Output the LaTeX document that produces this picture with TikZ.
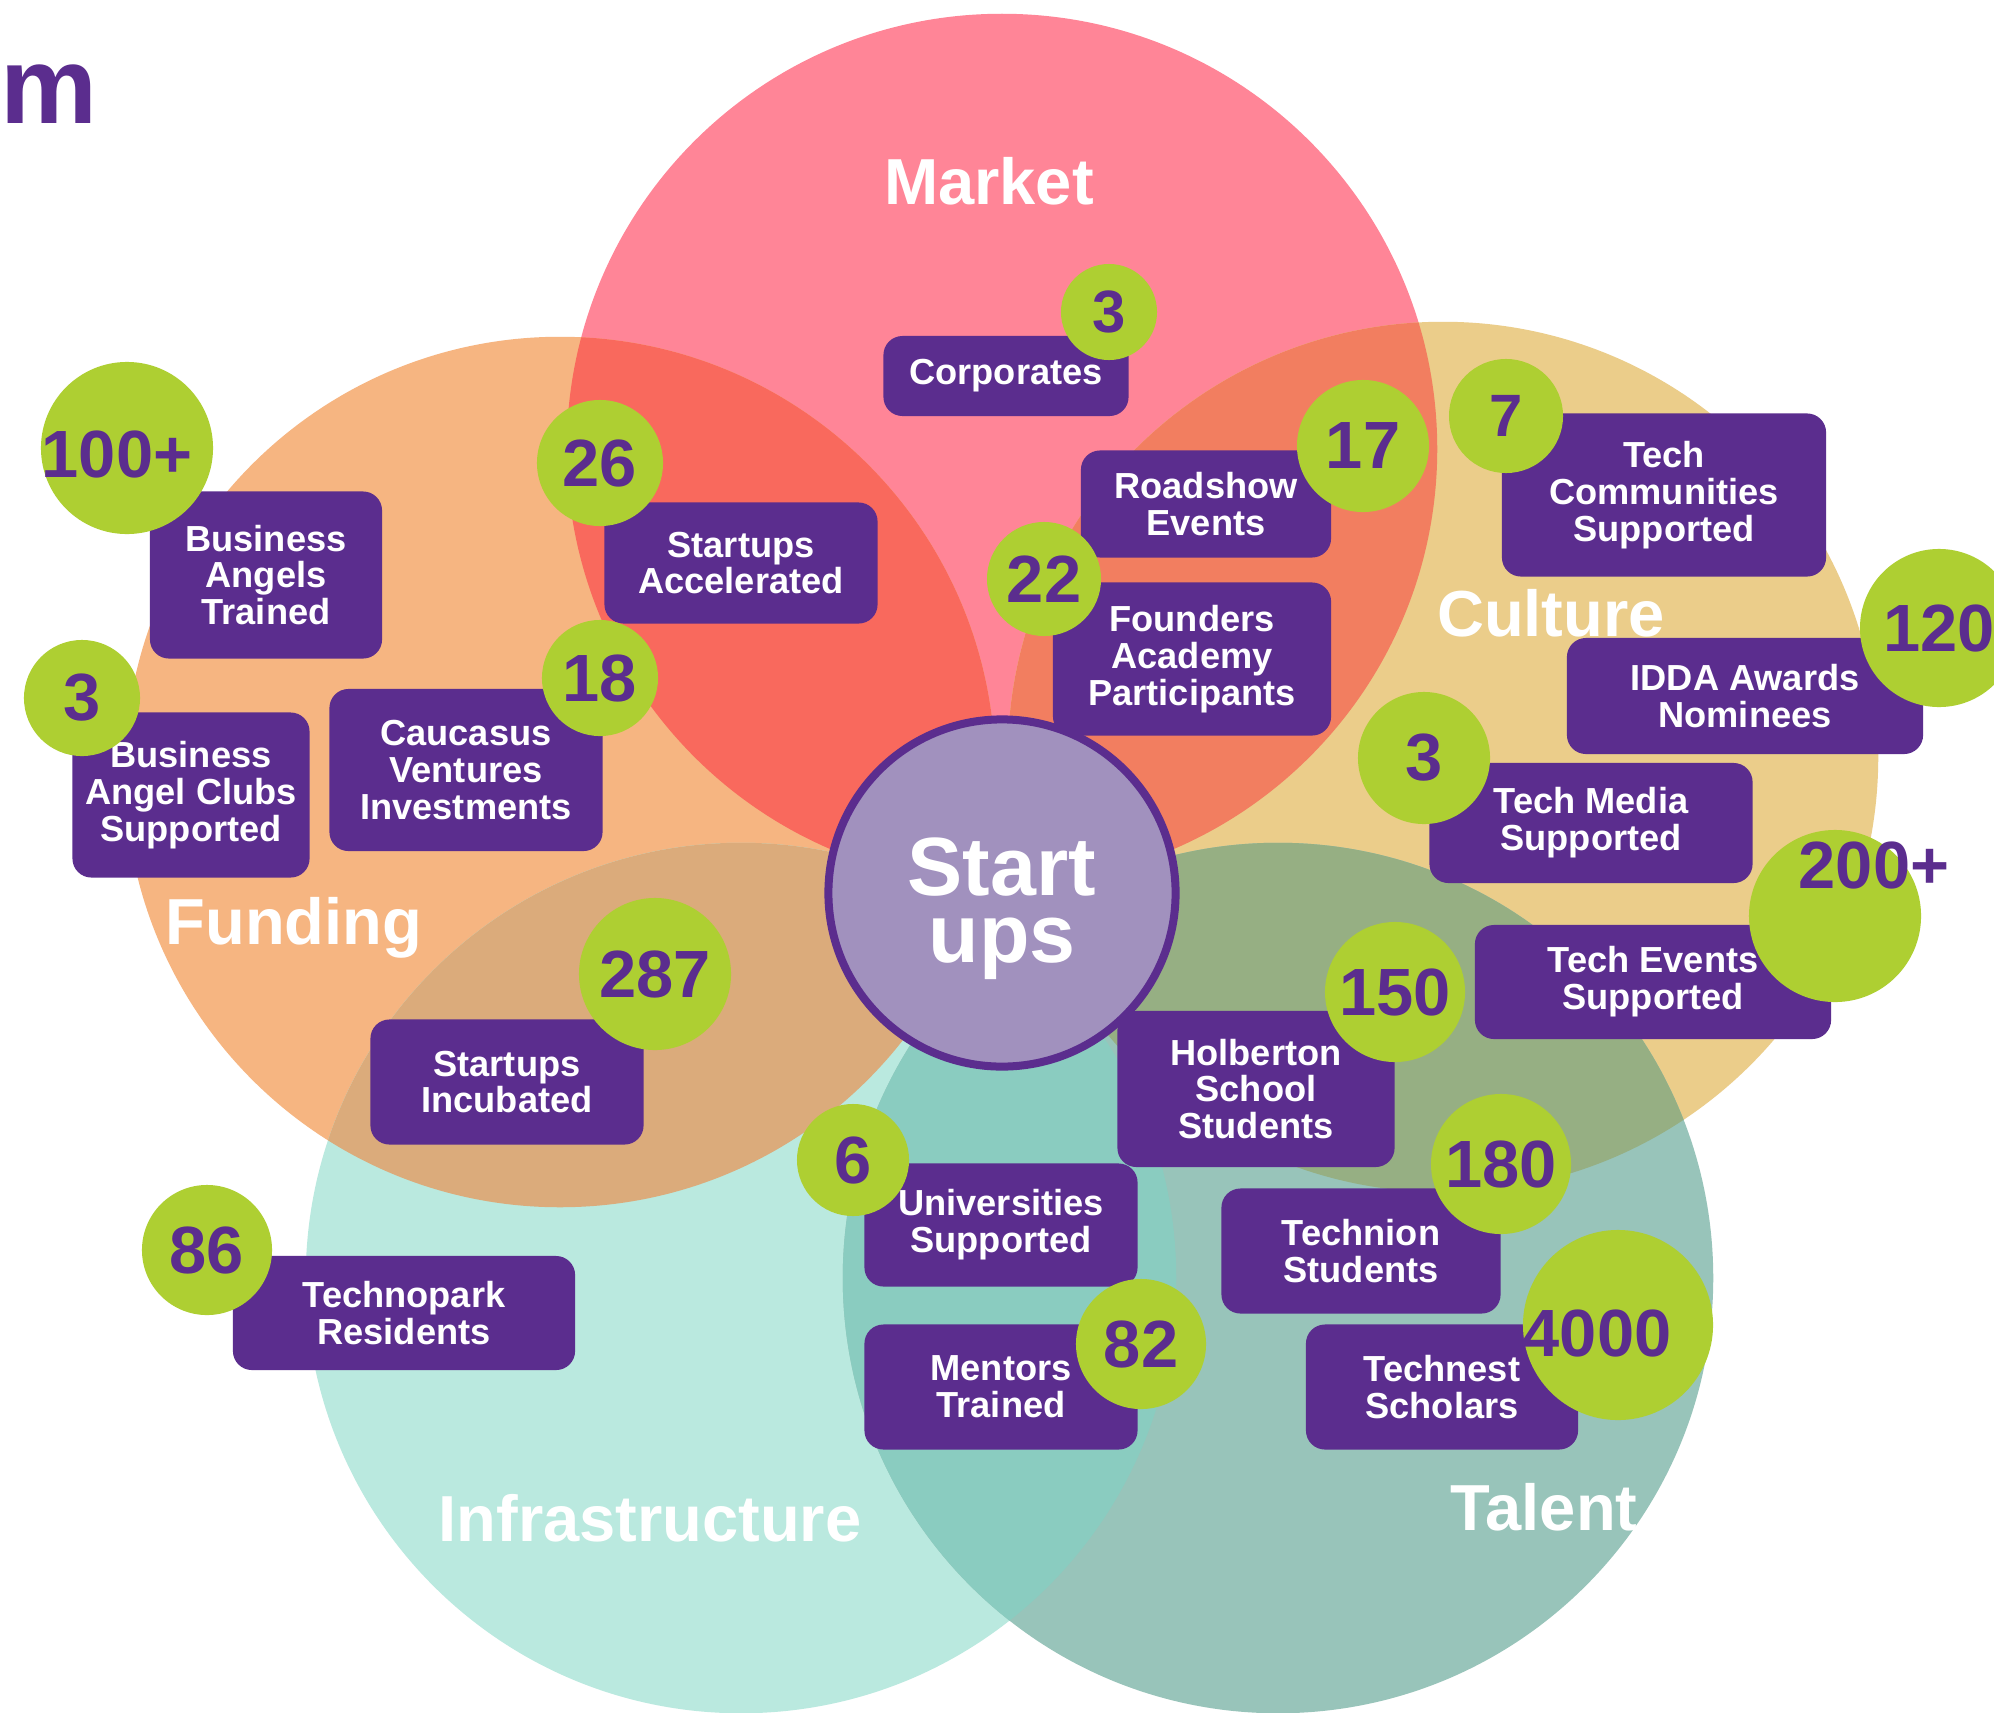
\documentclass[tikz,border=0pt]{standalone}
\usepackage{fontspec}
\setmainfont{Liberation Sans}
\definecolor{vpurple}{HTML}{5B2D8E}
\definecolor{vgreen}{HTML}{AECF32}
\definecolor{cM}{HTML}{FF8597}
\definecolor{cF}{HTML}{F6B581}
\definecolor{cC}{HTML}{EBCD8A}
\definecolor{cI}{HTML}{BAE9DF}
\definecolor{cT}{HTML}{98C4BA}
\definecolor{cMF}{HTML}{F9695D}
\definecolor{cMC}{HTML}{F27E60}
\definecolor{cFI}{HTML}{DBAB7B}
\definecolor{cCT}{HTML}{96AF83}
\definecolor{cIT}{HTML}{8ACCC0}
\definecolor{cS}{HTML}{A191BE}
\begin{document}
\begin{tikzpicture}[x=0.01cm,y=-0.01cm,
  box/.style={fill=vpurple, rounded corners=0.19cm, text=white,
    font=\fontsize{10.3}{10.5}\selectfont\bfseries, align=center, inner sep=0pt},
  num/.style={circle, fill=vgreen, text=vpurple,
    font=\fontsize{19}{19}\selectfont\bfseries, inner sep=0pt},
  numtext/.style={text=vpurple, font=\fontsize{19}{19}\selectfont\bfseries, inner sep=0pt},
  small/.style={font=\fontsize{17}{17}\selectfont\bfseries},
  cat/.style={text=white, font=\fontsize{18.5}{18.5}\selectfont\bfseries, inner sep=0pt},
  bigw/.style={text=white, font=\fontsize{23.5}{23.5}\selectfont\bfseries, inner sep=0pt, anchor=base},
  venn/.style={radius=4.35cm}]
\fill[white] (0,0) rectangle (1994,1712);
\useasboundingbox (0,0) rectangle (1994,1712);
\clip (0,0) rectangle (1994,1712);
% circle centres
\coordinate (Mc) at (1002,449);
\coordinate (Fc) at (560,772);
\coordinate (Cc) at (1443,757);
\coordinate (Ic) at (741,1278);
\coordinate (Tc) at (1278,1278);
% main circles
\fill[cM] (Mc) circle[venn];
\fill[cF] (Fc) circle[venn];
\fill[cC] (Cc) circle[venn];
\fill[cI] (Ic) circle[venn];
\fill[cT] (Tc) circle[venn];
% overlaps
\begin{scope}\clip (Mc) circle[venn]; \fill[cMF] (Fc) circle[venn]; \end{scope}
\begin{scope}\clip (Mc) circle[venn]; \fill[cMC] (Cc) circle[venn]; \end{scope}
\begin{scope}\clip (Fc) circle[venn]; \fill[cFI] (Ic) circle[venn]; \end{scope}
\begin{scope}\clip (Cc) circle[venn]; \fill[cCT] (Tc) circle[venn]; \end{scope}
\begin{scope}\clip (Ic) circle[venn]; \fill[cIT] (Tc) circle[venn]; \end{scope}
% title remnant
\node[anchor=base west, text=vpurple, font=\fontsize{31}{31}\selectfont\bfseries, inner sep=0pt] (mt) at (0,123) {m};
% category labels
\node[cat] (lM) at (989,181) {Market};
\node[cat] (lC) at (1551,613) {Culture};
\node[cat] (lF) at (294,928) {Funding};
\node[cat] (lI) at (650,1518) {Infrastructure};
\node[cat] (lT) at (1544,1507) {Talent};
% centre
\node[circle, draw=vpurple, line width=0.08cm, fill=cS, minimum size=3.47cm, inner sep=0pt] (su) at (1002,893) {};
\node[bigw] (sut1) at (1002,895) {Start};
\node[bigw] (sut2) at (1002,962) {ups};
% boxes
\node[box, minimum width=2.45cm, minimum height=0.80cm] (bCorp) at (1006,376) {Corporates};
\node[box, minimum width=2.73cm, minimum height=1.21cm] (bAcc) at (741,563) {Startups\\Accelerated};
\node[box, minimum width=2.32cm, minimum height=1.67cm] (bBAT) at (266,575) {Business\\Angels\\Trained};
\node[box, minimum width=2.37cm, minimum height=1.65cm] (bBAC) at (191,795) {Business\\Angel Clubs\\Supported};
\node[box, minimum width=2.73cm, minimum height=1.62cm] (bCVI) at (466,770) {Caucasus\\Ventures\\Investments};
\node[box, minimum width=2.50cm, minimum height=1.07cm] (bRE) at (1206,504) {Roadshow\\Events};
\node[box, minimum width=2.78cm, minimum height=1.53cm] (bFAP) at (1192,659) {Founders\\Academy\\Participants};
\node[box, minimum width=3.24cm, minimum height=1.63cm] (bTCS) at (1664,495) {Tech\\Communities\\Supported};
\node[box, minimum width=3.56cm, minimum height=1.16cm] (bIDDA) at (1745,696) {IDDA Awards\\Nominees};
\node[box, minimum width=3.23cm, minimum height=1.20cm] (bTMS) at (1591,823) {Tech Media\\Supported};
\node[box, minimum width=3.56cm, minimum height=1.14cm] (bTES) at (1653,982) {Tech Events\\Supported};
\node[box, minimum width=2.77cm, minimum height=1.56cm] (bHSS) at (1256,1089) {Holberton\\School\\Students};
\node[box, minimum width=2.73cm, minimum height=1.25cm] (bSI) at (507,1082) {Startups\\Incubated};
\node[box, minimum width=2.73cm, minimum height=1.23cm] (bUS) at (1001,1225) {Universities\\Supported};
\node[box, minimum width=2.79cm, minimum height=1.25cm] (bTS) at (1361,1251) {Technion\\Students};
\node[box, minimum width=3.42cm, minimum height=1.14cm] (bTR) at (404,1313) {Technopark\\Residents};
\node[box, minimum width=2.73cm, minimum height=1.25cm] (bMT) at (1001,1387) {Mentors\\Trained};
\node[box, minimum width=2.72cm, minimum height=1.25cm] (bTSc) at (1442,1387) {Technest\\Scholars};
% number badges
\node[num, small, minimum size=0.96cm] (nCorp) at (1109,312) {3};
\node[num, minimum size=1.26cm] (nAcc) at (600,463) {26};
\node[num, minimum size=1.72cm] (nBAT) at (127,448) {};
\node[numtext] (tBAT) at (117,454) {100+};
\node[num, minimum size=1.16cm] (nBAC) at (82,698) {3};
\node[num, minimum size=1.16cm] (nCVI) at (600,678) {18};
\node[num, minimum size=1.32cm] (nRE) at (1363,446) {17};
\node[num, minimum size=1.14cm] (nFAP) at (1044,579) {22};
\node[num, small, minimum size=1.14cm] (nTCS) at (1506,416) {7};
\node[num, minimum size=1.58cm] (nIDDA) at (1939,628) {120};
\node[num, minimum size=1.32cm] (nTMS) at (1424,758) {3};
\node[num, minimum size=1.72cm] (nTES) at (1835,916) {};
\node[numtext] (tTES) at (1874,865) {200+};
\node[num, minimum size=1.40cm] (nHSS) at (1395,992) {150};
\node[num, minimum size=1.52cm] (nSI) at (655,974) {287};
\node[num, minimum size=1.12cm] (nUS) at (853,1160) {6};
\node[num, minimum size=1.40cm] (nTS) at (1501,1164) {180};
\node[num, minimum size=1.30cm] (nTR) at (207,1250) {86};
\node[num, minimum size=1.30cm] (nMT) at (1141,1344) {82};
\node[num, minimum size=1.90cm] (nTSc) at (1618,1325) {};
\node[numtext] (tTSc) at (1597,1333) {4000};
\end{tikzpicture}
\end{document}
